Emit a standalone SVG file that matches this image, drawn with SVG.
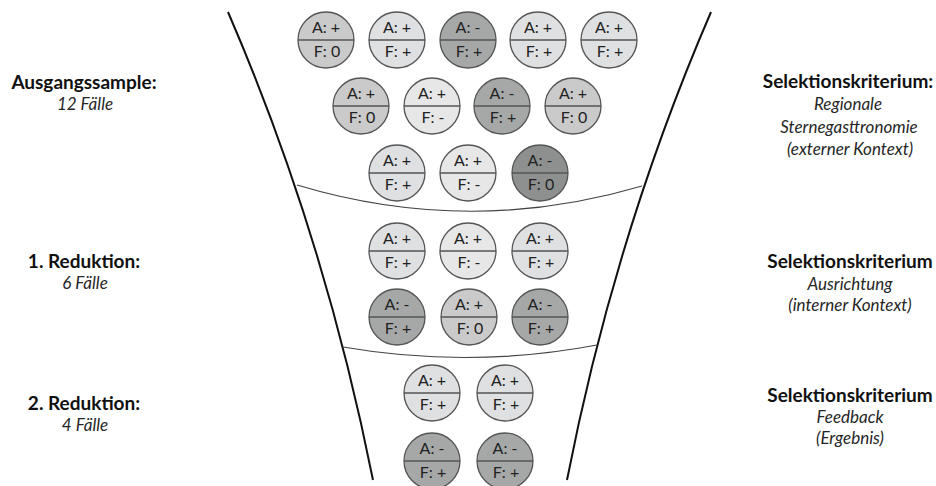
<svg xmlns="http://www.w3.org/2000/svg" width="936" height="486" viewBox="0 0 936 486">
<style>
  .bg{fill:#ffffff}
  .funnel{fill:none;stroke:#111;stroke-width:2}
  .sep{fill:none;stroke:#444;stroke-width:1.2}
  .c{stroke:#555;stroke-width:1.3}
  .div{stroke:#555;stroke-width:1.6}
  .l1{fill:#dfe0e2}
  .l0{fill:#e7e7e7}
  .m{fill:#cacaca}
  .d{fill:#a6a8a8}
  .dd{fill:#8e9090}
  .ct{font-family:Lato,"Liberation Sans",sans-serif;font-size:16px;fill:#222;text-anchor:middle}
  .h{font-family:Lato,"Liberation Sans",sans-serif;font-size:19px;font-weight:bold;fill:#111;text-anchor:middle}
  .s{font-family:Lato,"Liberation Sans",sans-serif;font-size:17px;font-style:italic;fill:#262626;text-anchor:middle}
</style>
<defs>
  <g id="cf">
    <line class="div" x1="-28" y1="0" x2="28" y2="0"/>
  </g>
</defs>
<rect class="bg" x="0" y="0" width="936" height="486"/>

<g id="connectors">
  <path class="funnel" d="M228,12 Q324,234 373,480"/>
  <path class="funnel" d="M711,12 Q615,234 567,480"/>
  <path class="sep" d="M297,185 Q470,237 642,186"/>
  <path class="sep" d="M343,347 Q470,369 597,345"/>
</g>

<!-- Ausgangssample row 1 -->
<g id="n1" transform="translate(326,40)"><circle class="c m" r="28"/><use href="#cf"/><text class="ct" y="-7">A: +</text><text class="ct" x="1" y="17">F: 0</text></g>
<g id="n2" transform="translate(397,40)"><circle class="c l1" r="28"/><use href="#cf"/><text class="ct" y="-7">A: +</text><text class="ct" x="1" y="17">F: +</text></g>
<g id="n3" transform="translate(468,40)"><circle class="c d" r="28"/><use href="#cf"/><text class="ct" y="-7">A: -</text><text class="ct" x="1" y="17">F: +</text></g>
<g id="n4" transform="translate(538,40)"><circle class="c l1" r="28"/><use href="#cf"/><text class="ct" y="-7">A: +</text><text class="ct" x="1" y="17">F: +</text></g>
<g id="n5" transform="translate(609,40)"><circle class="c l1" r="28"/><use href="#cf"/><text class="ct" y="-7">A: +</text><text class="ct" x="1" y="17">F: +</text></g>
<!-- row 2 -->
<g id="n6" transform="translate(361,106)"><circle class="c m" r="28"/><use href="#cf"/><text class="ct" y="-7">A: +</text><text class="ct" x="1" y="17">F: 0</text></g>
<g id="n7" transform="translate(432,106)"><circle class="c l0" r="28"/><use href="#cf"/><text class="ct" y="-7">A: +</text><text class="ct" x="1" y="17">F: -</text></g>
<g id="n8" transform="translate(502,106)"><circle class="c d" r="28"/><use href="#cf"/><text class="ct" y="-7">A: -</text><text class="ct" x="1" y="17">F: +</text></g>
<g id="n9" transform="translate(573,106)"><circle class="c m" r="28"/><use href="#cf"/><text class="ct" y="-7">A: +</text><text class="ct" x="1" y="17">F: 0</text></g>
<!-- row 3 -->
<g id="n10" transform="translate(397,173)"><circle class="c l1" r="28"/><use href="#cf"/><text class="ct" y="-7">A: +</text><text class="ct" x="1" y="17">F: +</text></g>
<g id="n11" transform="translate(468,173)"><circle class="c l0" r="28"/><use href="#cf"/><text class="ct" y="-7">A: +</text><text class="ct" x="1" y="17">F: -</text></g>
<g id="n12" transform="translate(540,173)"><circle class="c dd" r="28"/><use href="#cf"/><text class="ct" y="-7">A: -</text><text class="ct" x="1" y="17">F: 0</text></g>

<!-- 1. Reduktion -->
<g id="n13" transform="translate(397,251)"><circle class="c l1" r="28"/><use href="#cf"/><text class="ct" y="-7">A: +</text><text class="ct" x="1" y="17">F: +</text></g>
<g id="n14" transform="translate(468,251)"><circle class="c l0" r="28"/><use href="#cf"/><text class="ct" y="-7">A: +</text><text class="ct" x="1" y="17">F: -</text></g>
<g id="n15" transform="translate(540,251)"><circle class="c l1" r="28"/><use href="#cf"/><text class="ct" y="-7">A: +</text><text class="ct" x="1" y="17">F: +</text></g>
<g id="n16" transform="translate(397,317)"><circle class="c d" r="28"/><use href="#cf"/><text class="ct" y="-7">A: -</text><text class="ct" x="1" y="17">F: +</text></g>
<g id="n17" transform="translate(469,317)"><circle class="c m" r="28"/><use href="#cf"/><text class="ct" y="-7">A: +</text><text class="ct" x="1" y="17">F: 0</text></g>
<g id="n18" transform="translate(540,317)"><circle class="c d" r="28"/><use href="#cf"/><text class="ct" y="-7">A: -</text><text class="ct" x="1" y="17">F: +</text></g>

<!-- 2. Reduktion -->
<g id="n19" transform="translate(432,393)"><circle class="c l1" r="28"/><use href="#cf"/><text class="ct" y="-7">A: +</text><text class="ct" x="1" y="17">F: +</text></g>
<g id="n20" transform="translate(505,393)"><circle class="c l1" r="28"/><use href="#cf"/><text class="ct" y="-7">A: +</text><text class="ct" x="1" y="17">F: +</text></g>
<g id="n21" transform="translate(432,461)"><circle class="c d" r="28"/><use href="#cf"/><text class="ct" y="-7">A: -</text><text class="ct" x="1" y="17">F: +</text></g>
<g id="n22" transform="translate(505,461)"><circle class="c d" r="28"/><use href="#cf"/><text class="ct" y="-7">A: -</text><text class="ct" x="1" y="17">F: +</text></g>

<!-- left labels -->
<g id="label-left-1"><text class="h" x="84" y="89">Ausgangssample:</text><text class="s" x="85" y="110">12 Fälle</text></g>
<g id="label-left-2"><text class="h" x="84" y="268">1. Reduktion:</text><text class="s" x="85" y="289">6 Fälle</text></g>
<g id="label-left-3"><text class="h" x="84" y="410">2. Reduktion:</text><text class="s" x="85" y="431">4 Fälle</text></g>

<!-- right labels -->
<g id="label-right-1"><text class="h" x="848" y="88">Selektionskriterium:</text><text class="s" x="848" y="110">Regionale</text><text class="s" x="849" y="133">Sternegasttronomie</text><text class="s" x="850" y="155">(externer Kontext)</text></g>
<g id="label-right-2"><text class="h" x="850" y="268">Selektionskriterium</text><text class="s" x="850" y="290">Ausrichtung</text><text class="s" x="850" y="311">(interner Kontext)</text></g>
<g id="label-right-3"><text class="h" x="850" y="402">Selektionskriterium</text><text class="s" x="850" y="423">Feedback</text><text class="s" x="850" y="444">(Ergebnis)</text></g>
</svg>
